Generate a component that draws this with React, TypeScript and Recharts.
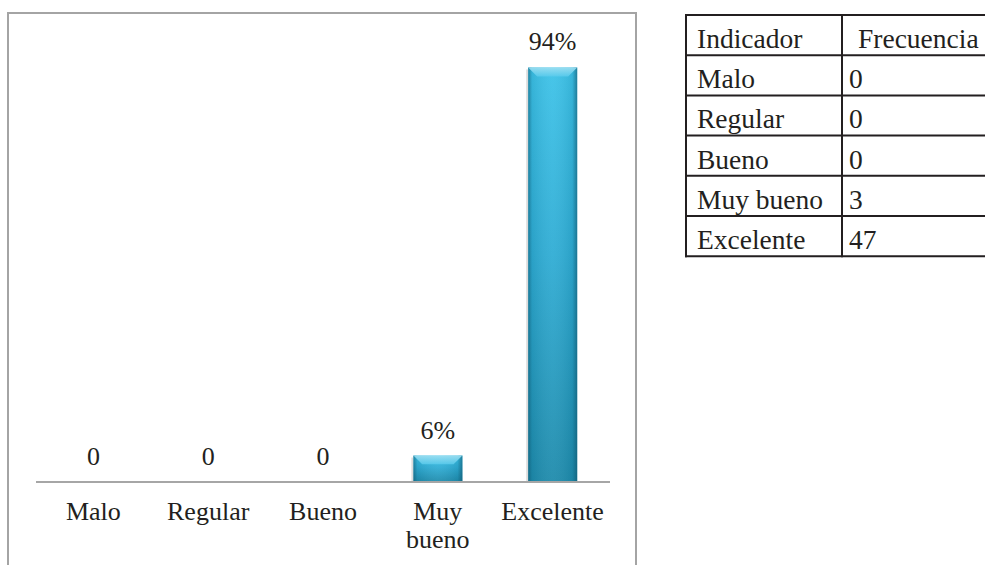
import React from 'react';
import { BarChart, Bar, XAxis, YAxis, LabelList } from 'recharts';

// Rating categories, share of answers (%) and raw counts
const categories = ['Malo', 'Regular', 'Bueno', 'Muy bueno', 'Excelente'];
const percentages = [0, 0, 0, 6, 94];
const frequencies = [0, 0, 0, 3, 47];
const tableHeaders = ['Indicador', 'Frecuencia'];

const data = categories.map((name, i) => ({ name, pct: percentages[i] }));

const SERIF = '"Liberation Serif", "Times New Roman", serif';
const TEXT = '#231f20';
const CHART_FONT = 26;
const TABLE_FONT = 27.5;

// Glossy bevelled column, light at the top and darker towards the base
const BevelBar = (props: any) => {
  const { x, y, width, height, index } = props;
  if (!height || height <= 0) return null;
  const b = Math.min(9, height / 3);
  const id = `bar-${index}`;
  return (
    <g>
      <defs>
        <linearGradient id={`${id}-body`} x1="0" y1="0" x2="0" y2="1">
          <stop offset="0%" stopColor="#3cc2e8" />
          <stop offset="45%" stopColor="#2eacd4" />
          <stop offset="100%" stopColor="#1d8aab" />
        </linearGradient>
        <linearGradient id={`${id}-edge`} x1="0" y1="0" x2="1" y2="0">
          <stop offset="0%" stopColor="#0d4f66" stopOpacity={0.55} />
          <stop offset="8%" stopColor="#0d4f66" stopOpacity={0.12} />
          <stop offset="50%" stopColor="#ffffff" stopOpacity={0.06} />
          <stop offset="90%" stopColor="#0d4f66" stopOpacity={0.12} />
          <stop offset="100%" stopColor="#0d4f66" stopOpacity={0.6} />
        </linearGradient>
        <linearGradient id={`${id}-bevel`} x1="0" y1="0" x2="0" y2="1">
          <stop offset="0%" stopColor="#a6e2f3" />
          <stop offset="100%" stopColor="#5acbec" />
        </linearGradient>
      </defs>
      <rect x={x - 2} y={y + 2} width={2} height={height - 2} fill="#9a9a9a" opacity={0.35} />
      <rect x={x} y={y} width={width} height={height} fill={`url(#${id}-body)`} />
      <rect x={x} y={y} width={width} height={height} fill={`url(#${id}-edge)`} />
      <polygon
        points={`${x},${y} ${x + width},${y} ${x + width - b},${y + b} ${x + b},${y + b}`}
        fill={`url(#${id}-bevel)`}
        opacity={0.85}
      />
    </g>
  );
};

const ValueLabel = (props: any) => {
  const { x, y, width, value } = props;
  const text = value === 0 ? '0' : `${value}%`;
  return (
    <text
      x={Number(x) + Number(width) / 2}
      y={Number(y) - 17}
      textAnchor="middle"
      fontFamily={SERIF}
      fontSize={CHART_FONT}
      fill={TEXT}
    >
      {text}
    </text>
  );
};

// Multi-word category names are stacked one word per line
const CategoryTick = (props: any) => {
  const { x, y, payload } = props;
  const words = String(payload.value).split(' ');
  return (
    <text x={x} y={y + 38} textAnchor="middle" fontFamily={SERIF} fontSize={CHART_FONT} fill={TEXT}>
      {words.map((w, i) => (
        <tspan key={i} x={x} dy={i === 0 ? 0 : 28}>
          {w}
        </tspan>
      ))}
    </text>
  );
};

const ROW_H = 40.2;
const TABLE_TOP = 15;
const COL_X = [686, 842, 1000];

const FrequencyTable = () => {
  const rows = [tableHeaders, ...categories.map((c, i) => [c, String(frequencies[i])])];
  const bottom = TABLE_TOP + ROW_H * rows.length;
  return (
    <svg width={985} height={565} style={{ position: 'absolute', left: 0, top: 0 }}>
      {rows.map((_, i) => (
        <line
          key={`h${i}`}
          x1={COL_X[0] - 1}
          x2={COL_X[2]}
          y1={TABLE_TOP + ROW_H * i}
          y2={TABLE_TOP + ROW_H * i}
          stroke={TEXT}
          strokeWidth={2}
        />
      ))}
      <line x1={COL_X[0] - 1} x2={COL_X[2]} y1={bottom} y2={bottom} stroke={TEXT} strokeWidth={2} />
      {COL_X.map((cx, i) => (
        <line key={`v${i}`} x1={cx} x2={cx} y1={TABLE_TOP - 1} y2={bottom + 1} stroke={TEXT} strokeWidth={2} />
      ))}
      {rows.map((r, i) => (
        <g key={`r${i}`}>
          <text
            x={COL_X[0] + 11}
            y={TABLE_TOP + ROW_H * i + 33}
            fontFamily={SERIF}
            fontSize={TABLE_FONT}
            fill={TEXT}
          >
            {r[0]}
          </text>
          <text
            x={COL_X[1] + (i === 0 ? 16 : 7)}
            y={TABLE_TOP + ROW_H * i + 33}
            fontFamily={SERIF}
            fontSize={TABLE_FONT}
            fill={TEXT}
          >
            {r[1]}
          </text>
        </g>
      ))}
    </svg>
  );
};

export default function App() {
  return (
    <div
      style={{
        position: 'fixed',
        left: 0,
        top: 0,
        width: 985,
        height: 565,
        overflow: 'hidden',
        background: '#ffffff',
      }}
    >
      <div
        style={{
          position: 'absolute',
          left: 7,
          top: 12,
          width: 630,
          height: 700,
          border: '2px solid #a4a4a4',
          boxSizing: 'border-box',
        }}
      />
      <div style={{ position: 'absolute', left: 0, top: 0 }}>
        <BarChart
          width={637}
          height={565}
          data={data}
          margin={{ top: 41, right: 27, left: 36, bottom: 0 }}
        >
          <YAxis hide domain={[0, 100]} />
          <XAxis
            dataKey="name"
            height={83}
            interval={0}
            tickLine={false}
            tickSize={0}
            tickMargin={0}
            axisLine={{ stroke: '#a6a6a6', strokeWidth: 2 }}
            tick={<CategoryTick />}
          />
          <Bar dataKey="pct" barSize={49} shape={<BevelBar />} isAnimationActive={false}>
            <LabelList dataKey="pct" content={<ValueLabel />} />
          </Bar>
        </BarChart>
      </div>
      <FrequencyTable />
    </div>
  );
}
